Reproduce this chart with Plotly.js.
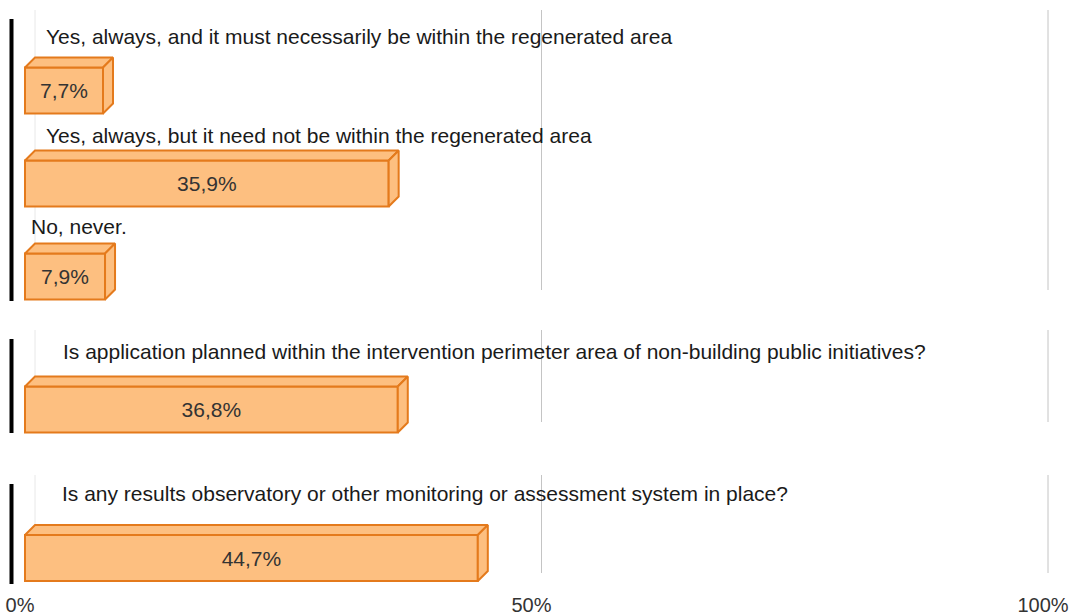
<!DOCTYPE html>
<html>
<head>
<meta charset="utf-8">
<script src="https://cdn.plot.ly/plotly-3.0.1.min.js"></script>
<style>html,body{margin:0;padding:0;background:#fff;}#chart{width:1073px;height:615px;}</style>
</head>
<body>
<div id="chart"></div>
<script>
// ---- data ----
const categories = [
  "Yes, always, and it must necessarily be within the regenerated area",
  "Yes, always, but it need not be within the regenerated area",
  "No, never.",
  "Is application planned within the intervention perimeter area of non-building public initiatives?",
  "Is any results observatory or other monitoring or assessment system in place?"
];
const values = [7.7, 35.9, 7.9, 36.8, 44.7];
const tickVals = [0, 50, 100];
const tickLabels = ["0%", "50%", "100%"];
const gridVals = [50, 100];

// ---- layout (pixel-based positions) ----
const W = 1073, H = 615, B = 30;
const barCenters = [90.5, 183.5, 276.5, 409.5, 558];   // y (px from top) of bar front face centre
const barHeight = 46;
const labelY = [36, 135, 226, 351, 493];
const labelX = [44, 44, 29, 61, 60];
const panels = [ {top: 10, bottom: 300}, {top: 330, bottom: 432}, {top: 475, bottom: 583} ];
const depthPx = 10;
const pxPerUnit = 10.13;
const x0px = 25;
const xr = [-x0px / pxPerUnit, (W - x0px) / pxPerUnit];
const dxU = depthPx / pxPerUnit;
const tx0 = 20, tx100 = 1043;
const tppu = (tx100 - tx0) / 100;
const xr2 = [-tx0 / tppu, (W - tx0) / tppu];

const fill = "#FDBF80";
const edge = "#E47A1C";
const font = "Liberation Sans, Arial, sans-serif";

const fmt = v => v.toFixed(1).replace(".", ",") + "%";

const traces = [];
// top and right faces
values.forEach((v, i) => {
  const yt = barCenters[i] - barHeight / 2, yb = barCenters[i] + barHeight / 2;
  traces.push({
    type: "scatter", mode: "lines", fill: "toself", fillcolor: fill,
    line: {color: edge, width: 2}, hoverinfo: "skip", showlegend: false,
    x: [0, v, v + dxU, dxU, 0], y: [yt, yt, yt - depthPx, yt - depthPx, yt]
  });
  traces.push({
    type: "scatter", mode: "lines", fill: "toself", fillcolor: fill,
    line: {color: edge, width: 2}, hoverinfo: "skip", showlegend: false,
    x: [v, v + dxU, v + dxU, v, v], y: [yt, yt - depthPx, yb - depthPx, yb, yt]
  });
});
// front faces
traces.push({
  type: "bar", orientation: "h", x: values, y: barCenters, width: barHeight,
  marker: {color: fill, line: {color: edge, width: 2}},
  text: values.map(fmt), textposition: "inside", insidetextanchor: "middle",
  constraintext: "none",
  textfont: {family: font, size: 21, color: "#333"},
  hoverinfo: "skip", showlegend: false
});
// tick axis carrier
traces.push({type: "scatter", mode: "none", x: [0, 100], y: [-100, -100], xaxis: "x2", yaxis: "y", hoverinfo: "skip", showlegend: false});

const shapes = [];
panels.forEach(p => {
  shapes.push({type: "line", layer: "below", xref: "x", yref: "y", x0: dxU, x1: dxU, y0: p.top, y1: p.bottom - depthPx, line: {color: "#e8e8e8", width: 1}});
  gridVals.forEach(g => {
    shapes.push({type: "line", layer: "below", xref: "x", yref: "y", x0: g + dxU, x1: g + dxU, y0: p.top, y1: p.bottom - depthPx, line: {color: "#c4c4c4", width: 1}});
  });
  shapes.push({type: "line", xref: "paper", yref: "y", x0: 11.5 / W, x1: 11.5 / W, y0: p.top + 9, y1: p.bottom + 1, line: {color: "#000", width: 4}});
});

const annotations = categories.map((c, i) => ({
  text: c, xref: "paper", yref: "y", x: labelX[i] / W, y: labelY[i],
  xanchor: "left", yanchor: "middle", showarrow: false,
  font: {family: font, size: 21, color: "#1a1a1a"}
}));

const layout = {
  width: W, height: H,
  margin: {l: 0, r: 0, t: 0, b: B, pad: 0},
  paper_bgcolor: "#fff", plot_bgcolor: "#fff",
  showlegend: false,
  bargap: 0,
  xaxis: {range: xr, showgrid: false, zeroline: false, showticklabels: false, showline: false, ticks: ""},
  xaxis2: {range: xr2, overlaying: "x", anchor: "y", side: "bottom", tickvals: tickVals, ticktext: tickLabels,
    showgrid: false, zeroline: false, showline: false, ticks: "outside", ticklen: 2, tickcolor: "rgba(0,0,0,0)",
    tickfont: {family: font, size: 20, color: "#333"}},
  yaxis: {range: [H - B, 0], showgrid: false, zeroline: false, showticklabels: false, showline: false, ticks: ""},
  shapes: shapes,
  annotations: annotations
};

Plotly.newPlot("chart", traces, layout, {staticPlot: true, displayModeBar: false});
</script>
</body>
</html>
